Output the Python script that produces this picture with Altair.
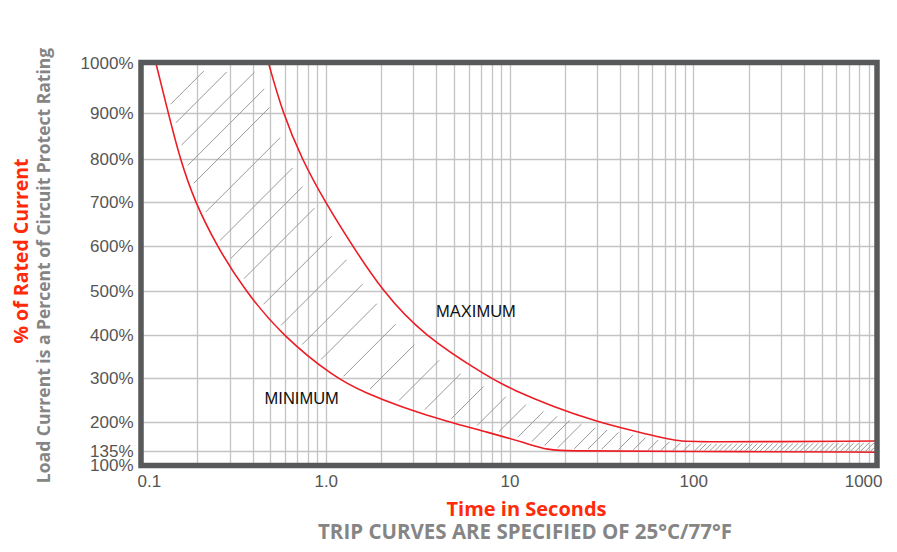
import altair as alt
import numpy as np
import pandas as pd

# ---------------- data ----------------
# upper (MAXIMUM) trip curve: time in seconds, % of rated current
max_t = [0.488, 0.583, 0.74, 0.991, 1.398, 2.036, 3.361, 7.83, 10.45,
         17.25, 30.3, 45.3, 63.5, 81.6, 96.0, 1000]
max_p = [1000, 900, 800, 700, 600, 500, 400, 300, 273,
         235, 200, 182, 167, 158, 154.5, 157.5]
# lower (MINIMUM) trip curve
min_t = [0.119, 0.139, 0.161, 0.194, 0.255, 0.364, 0.576, 1.12, 1.67, 2.54, 4.63,
         7.51, 12.4, 16.2, 20.5, 100, 1000]
min_p = [1000, 900, 800, 700, 600, 500, 400, 300, 265, 235, 200,
         178, 152, 137, 135, 134, 132]
# times where each hatch stroke leaves the minimum curve
hatch_t = [0.1368, 0.1453, 0.156, 0.1685, 0.182, 0.2116, 0.2527, 0.290, 0.341, 0.436,
           0.543, 0.709, 0.896, 1.189, 1.656, 2.38, 3.30, 4.63, 6.41, 8.45, 10.7, 12.8,
           15.0, 17.7, 21.9, 26.1, 31.0, 38.4, 46.4, 56.0, 65.9, 76.6, 87.9, 101,
           107, 114, 122, 130, 138, 147, 157, 167, 178, 190, 202, 215, 229, 244, 260,
           277, 295, 314, 334, 356, 379, 403, 430, 457, 487, 519, 552, 588, 626, 667,
           710, 756, 805, 857, 912, 970]
y_ticks = [100, 135, 200, 300, 400, 500, 600, 700, 800, 900, 1000]
x_decades = [0.1, 1, 10, 100, 1000]
x_labels = ["0.1", "1.0", "10", "100", "1000"]
label_text = ["MAXIMUM", "MINIMUM"]
label_t = [6.57, 0.74]
label_p = [452, 252]

# ---------------- layout / scales ----------------
W, H = 735, 402
y_pos = [402, 388, 359, 315, 272, 228, 183, 139, 96, 50, 0]  # uneven printed y grid
RED_LINE = "#ec1c24"
RED_TXT = "#ff2a0a"
GRAY_TXT = "#858585"
FRAME = "#58595b"


def X(t):
    return np.log10(np.asarray(t, float) / 0.1) / 4 * W


def Y(p):
    return np.interp(p, y_ticks, y_pos)


def T(x):
    return 0.1 * 10 ** (np.asarray(x, float) * 4 / W)


def P(y):
    return np.interp(y, y_pos[::-1], y_ticks[::-1])


# hatch strokes: 45 degree segments from the minimum curve toward the maximum curve
xs_min, ys_min = X(min_t), Y(min_p)
xs_max, ys_max = X(max_t), Y(max_p)
s_max = xs_max + ys_max
rows = []
for tf in hatch_t:
    xf = float(X(tf))
    yf = float(np.interp(xf, xs_min, ys_min))
    c = xf + yf
    if c < s_max[0]:
        xe, ye = c, 0.0
    elif c > s_max[-1]:
        ye = ys_max[-1]
        xe = c - ye
        if xe > W - 2:
            xe, ye = W - 2, c - (W - 2)
    else:
        xe = float(np.interp(c, s_max, xs_max))
        ye = float(np.interp(c, s_max, ys_max))
    L = xe - xf
    if L <= 0.5:
        continue
    d0 = min(4.0, 0.08 * L)
    d1 = min(9.0, 0.18 * L)
    x1, y1 = xf + d0, yf - d0
    x2, y2 = xe - d1, ye + d1
    rows.append({"t1": float(T(x1)), "p1": float(P(y1)),
                 "t2": float(T(x2)), "p2": float(P(y2))})
hatch_df = pd.DataFrame(rows)

curves_df = pd.concat([
    pd.DataFrame({"t": max_t, "p": max_p, "curve": "max"}),
    pd.DataFrame({"t": min_t, "p": min_p, "curve": "min"}),
])
labels_df = pd.DataFrame({"t": label_t, "p": label_p, "text": label_text})

x_grid = [round(m * d, 6) for d in x_decades[:-1] for m in range(1, 10)] + [x_decades[-1]]
label_expr = " : ".join(
    f"datum.value == {v} ? '{s}'" for v, s in zip(x_decades, x_labels)) + " : ''"

xscale = alt.Scale(type="log", domain=[0.1, 1000], nice=False)
yscale = alt.Scale(type="linear", domain=y_ticks, range=y_pos, zero=False, nice=False)

common_axis = dict(domain=False, ticks=False, grid=True, gridColor="#c4c4c4",
                   gridWidth=1.3, labelFont="Liberation Sans", labelFontSize=17,
                   labelColor="#555555", labelOverlap=False)
xaxis = alt.Axis(values=x_grid, labelExpr=label_expr, labelPadding=8,
                 labelFlush=True, labelFlushOffset=5,
                 title="Time in Seconds", titleColor=RED_TXT, titleFont="Open Sans",
                 titleFontWeight="bold", titleFontSize=20, titleX=384, titleY=44,
                 titleAlign="center", titleBaseline="middle", **common_axis)
yaxis = alt.Axis(values=y_ticks, labelExpr="datum.value + '%'", labelPadding=9,
                 labelFlush=False,
                 title="Load Current is a Percent of Circuit Protect Rating",
                 titleColor=GRAY_TXT, titleFont="Open Sans", titleFontWeight="bold",
                 titleFontSize=17.5, titleX=-98, titleY=202, titleAngle=270,
                 titleAlign="center", titleBaseline="middle", **common_axis)

hatch = alt.Chart(hatch_df).mark_rule(color="#9a9a9a", strokeWidth=1).encode(
    x=alt.X("t1:Q", scale=xscale, axis=xaxis),
    x2="t2:Q",
    y=alt.Y("p1:Q", scale=yscale, axis=yaxis),
    y2="p2:Q",
)

curves = alt.Chart(curves_df).mark_line(color=RED_LINE, strokeWidth=1.6,
                                        interpolate="basis").encode(
    x=alt.X("t:Q", scale=xscale, axis=xaxis),
    y=alt.Y("p:Q", scale=yscale, axis=yaxis),
    detail="curve:N",
)

labels = alt.Chart(labels_df).mark_text(font="Liberation Sans", fontSize=16.5,
                                        color="#111111").encode(
    x=alt.X("t:Q", scale=xscale, axis=xaxis),
    y=alt.Y("p:Q", scale=yscale, axis=yaxis),
    text="text:N",
)

one = pd.DataFrame({"k": [0]})
frame = alt.Chart(one).mark_rect(fillOpacity=0, stroke=FRAME, strokeWidth=5.5).encode(
    x=alt.value(-1), x2=alt.value(W), y=alt.value(-0.5), y2=alt.value(H + 0.5))

ytitle_red = alt.Chart(one).mark_text(
    text="% of Rated Current", angle=270, font="Open Sans", fontWeight="bold",
    fontSize=19.5, color=RED_TXT, align="center", baseline="middle",
).encode(x=alt.value(-120), y=alt.value(188))

caption = alt.Chart(one).mark_text(
    text="TRIP CURVES ARE SPECIFIED OF 25°C/77°F", font="Open Sans",
    fontWeight="bold", fontSize=20.5, color=GRAY_TXT, align="center",
    baseline="middle",
).encode(x=alt.value(383), y=alt.value(470))

chart = alt.layer(hatch, curves, labels, frame, ytitle_red, caption).properties(
    width=W, height=H,
    autosize=alt.AutoSizeParams(type="none"),
    padding={"left": 134, "top": 55, "right": 12, "bottom": 79},
).configure_view(strokeOpacity=0)

chart.save("out.html", embed_options={"renderer": "svg", "actions": False})
